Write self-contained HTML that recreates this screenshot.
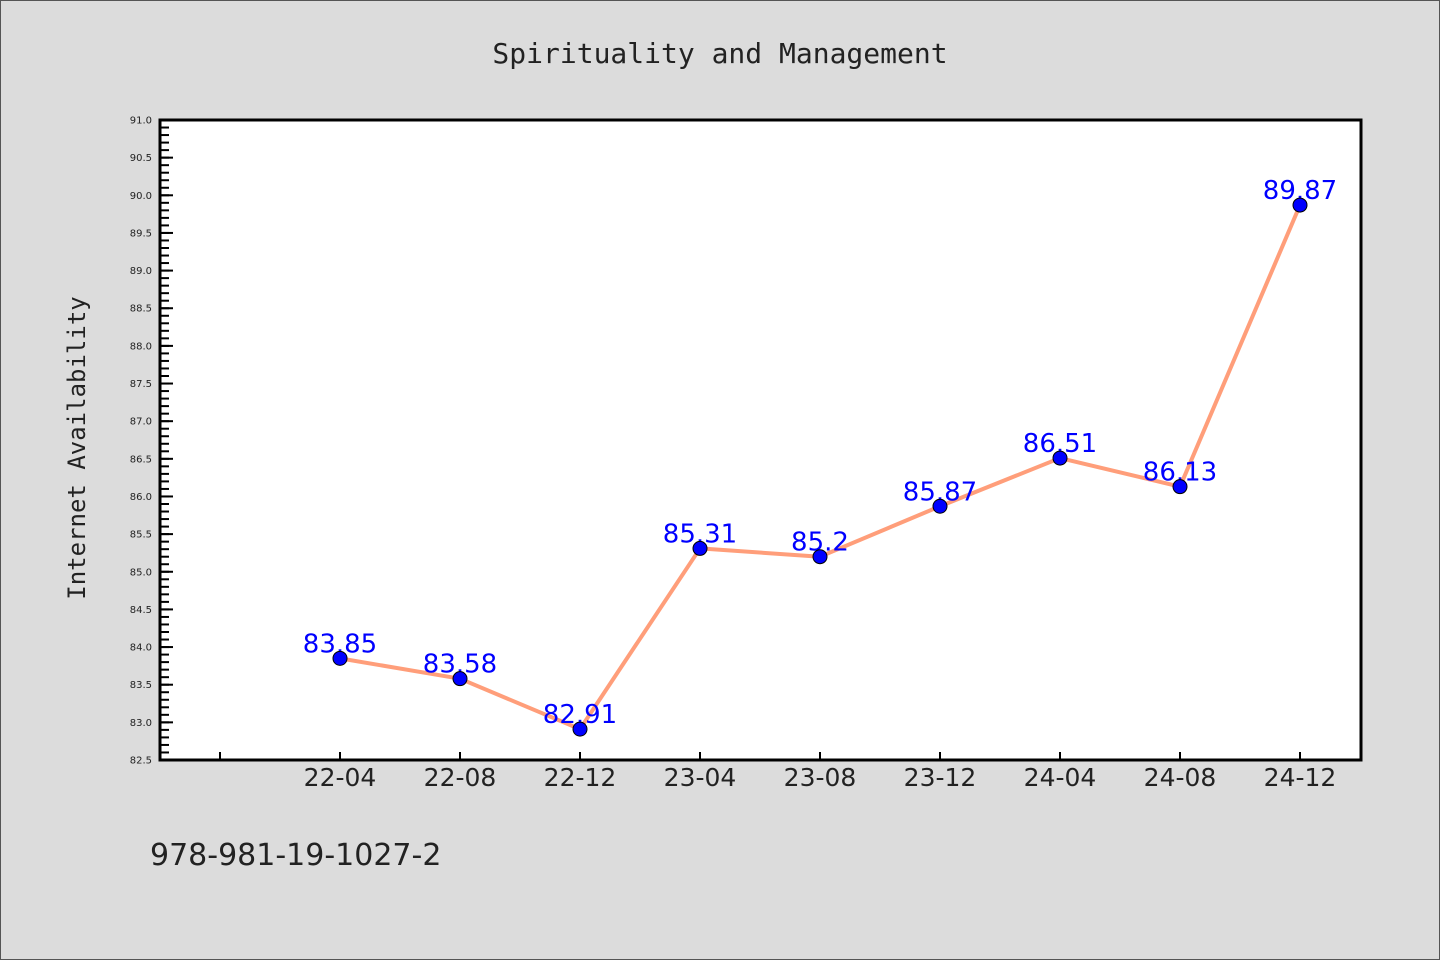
<!DOCTYPE html>
<html><head><meta charset="utf-8"><style>
html,body{margin:0;padding:0;background:#dcdcdc;}
svg{display:block;}
</style></head><body>
<svg width="1440" height="960" xmlns="http://www.w3.org/2000/svg">
<rect x="0.5" y="0.5" width="1439" height="959" fill="#dcdcdc" stroke="#555"/>
<text x="720" y="63" text-anchor="middle" font-family="'DejaVu Sans Mono','Liberation Mono',monospace" font-size="28" fill="#222">Spirituality and Management</text>
<rect x="160" y="120" width="1201" height="640" fill="#fff"/>
<g id="axes"></g>
<g id="series"></g>
<rect x="160" y="120" width="1201" height="640" fill="none" stroke="#000" stroke-width="3"/>
<text transform="translate(85,448) rotate(-90)" text-anchor="middle" font-family="'DejaVu Sans Mono','Liberation Mono',monospace" font-size="24" fill="#222">Internet Availability</text>
<text x="150" y="865" font-family="'DejaVu Sans','Liberation Sans',sans-serif" font-size="30" fill="#222">978-981-19-1027-2</text>
</svg>
<script>
const categories = ["22-04","22-08","22-12","23-04","23-08","23-12","24-04","24-08","24-12"];
const values = [83.85,83.58,82.91,85.31,85.2,85.87,86.51,86.13,89.87];
const valueLabels = ["83.85","83.58","82.91","85.31","85.2","85.87","86.51","86.13","89.87"];
const yTicks = ["82.5","83.0","83.5","84.0","84.5","85.0","85.5","86.0","86.5","87.0","87.5","88.0","88.5","89.0","89.5","90.0","90.5","91.0"];
const yMin = 82.5, yMax = 91.0;
const NS = "http://www.w3.org/2000/svg";
function y(v){ return 760 - (v - yMin) / (yMax - yMin) * 640; }
function x(i){ return 340 + i * 120; }
function mk(tag, attrs, parent){ const e = document.createElementNS(NS, tag); for (const k in attrs) e.setAttribute(k, attrs[k]); parent.appendChild(e); return e; }
const axes = document.getElementById("axes");
const series = document.getElementById("series");
// minor y ticks
for (let v = yMin; v <= yMax + 1e-9; v += 0.1) {
  const t = mk("line", {x1:160, x2:169, y1:y(v), y2:y(v), stroke:"#000", "stroke-width":2}, axes);
  
  
}
yTicks.forEach(s => {
  const v = parseFloat(s);
  const t = mk("line", {x1:160, x2:173, y1:y(v), y2:y(v), stroke:"#000", "stroke-width":2}, axes);
  
  
  const l = mk("text", {x:152, y:y(v)+3.5, "text-anchor":"end", "font-family":"'DejaVu Sans',sans-serif", "font-size":10, fill:"#222"}, axes);
  l.textContent = s;
  
  
});
// x ticks (including leading empty slot)
for (let i = -1; i < categories.length; i++) {
  const t = mk("line", {x1:x(i), x2:x(i), y1:752, y2:760, stroke:"#000", "stroke-width":2}, axes);
  
  
  if (i >= 0) {
    const l = mk("text", {x:x(i), y:786, "text-anchor":"middle", "font-family":"'DejaVu Sans',sans-serif", "font-size":25, fill:"#222"}, axes);
    l.textContent = categories[i];
    
    
  }
}
const pts = values.map((v, i) => x(i) + "," + y(v)).join(" ");
const line = mk("polyline", {points:pts, fill:"none", stroke:"#ff9e7a", "stroke-width":4, "stroke-linejoin":"round"}, series);


values.forEach((v, i) => {
  const l = mk("text", {x:x(i), y:y(v)-6, "text-anchor":"middle", "font-family":"'DejaVu Sans',sans-serif", "font-size":26, fill:"#0000ff"}, series);
  l.textContent = valueLabels[i];
  
  
});
values.forEach((v, i) => {
  const c = mk("circle", {cx:x(i), cy:y(v), r:7, fill:"#0000ff", stroke:"#000", "stroke-width":1}, series);
  
  
});
</script>
</body></html>
